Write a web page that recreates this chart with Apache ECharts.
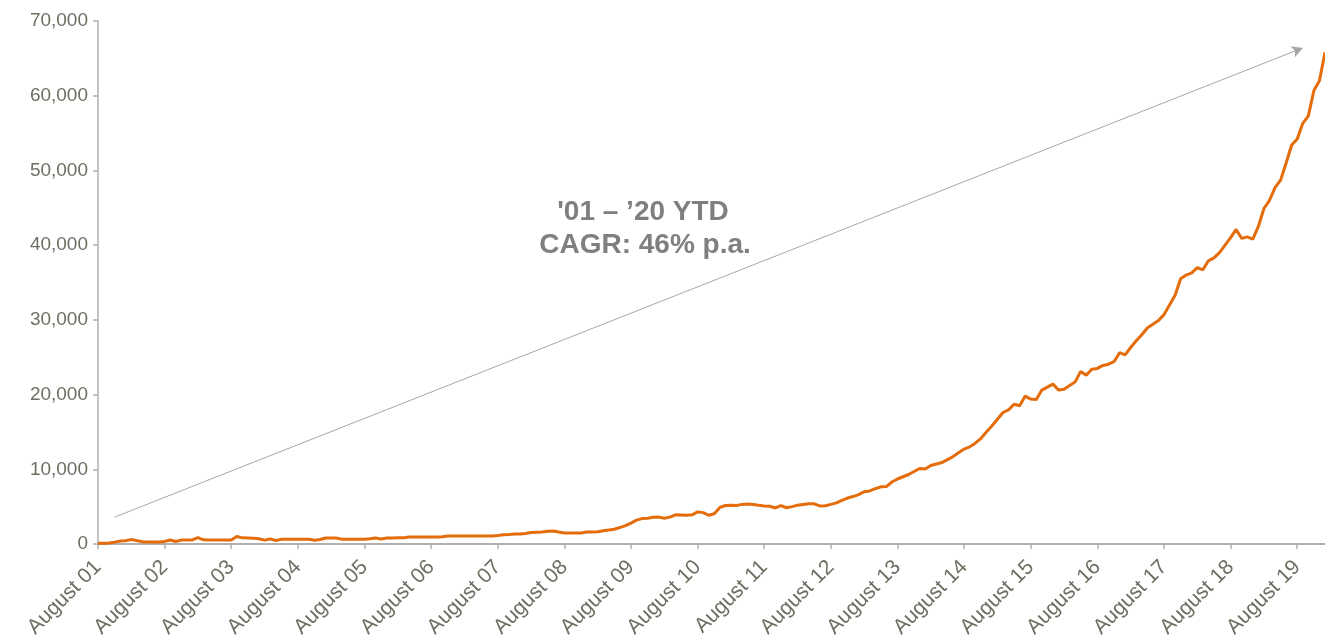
<!DOCTYPE html>
<html>
<head>
<meta charset="utf-8">
<script src="https://cdn.jsdelivr.net/npm/echarts@6/dist/echarts.min.js"></script>
<style>html,body{margin:0;padding:0;background:#fff}#c{width:1325px;height:641px}</style>
</head>
<body>
<div id="c"></div>
<script>
// Monthly series from August 2001 to January 2020
const startYear = 2001;
const startMonth = 7; // August (0-based)
const monthNames = ['January','February','March','April','May','June','July','August','September','October','November','December'];

const values = [
  100,110,130,250,400,450,600,450,300,270,270,280,
  350,530,330,520,530,540,850,560,540,540,540,540,
  540,1000,820,800,780,700,520,680,470,620,630,630,
  630,630,630,500,600,800,810,790,640,630,630,630,
  640,700,800,680,800,810,820,820,940,950,950,950,
  950,950,960,1060,1070,1070,1070,1070,1080,1080,1080,1080,
  1150,1250,1280,1330,1350,1400,1550,1580,1600,1700,1750,1600,
  1470,1470,1470,1480,1600,1620,1650,1780,1860,1980,2200,2450,
  2800,3200,3400,3450,3580,3600,3450,3600,3900,3880,3840,3900,
  4300,4200,3850,4050,4900,5150,5180,5150,5300,5350,5300,5180,
  5100,5050,4820,5150,4850,5000,5200,5300,5400,5380,5100,5130,
  5300,5500,5850,6150,6350,6600,7000,7100,7400,7650,7680,8300,
  8700,9000,9300,9700,10100,10050,10500,10700,10900,11300,11700,12200,
  12700,13000,13500,14100,15000,15800,16700,17600,17950,18700,18500,19800,
  19400,19350,20600,21000,21400,20600,20700,21200,21700,23100,22600,23400,
  23500,23900,24060,24400,25600,25300,26300,27200,28000,28900,29400,29900,
  30700,32000,33300,35500,36000,36300,37000,36700,37900,38300,39000,40000,
  41000,42100,40900,41100,40800,42500,44900,46000,47700,48700,51000,53400,
  54200,56300,57300,60700,62000,65800
];

const categories = [];
for (let i = 0; i < values.length; i++) {
  const m = (startMonth + i) % 12;
  const y = startYear + Math.floor((startMonth + i) / 12);
  categories.push(monthNames[m] + ' ' + String(y % 100).padStart(2, '0'));
}

const yTicks = { min: 0, max: 70000, interval: 10000 };
const annotationLines = ["'01 \u2013 \u201920 YTD", 'CAGR: 46% p.a.'];
const arrowFrom = { index: 3, value: 3600 };
const arrowTo = { index: 217, value: 66400 };

const labelColor = '#6e6e62';
const axisColor = '#b0b0b0';
const fontFamily = "'Liberation Sans', Arial, sans-serif";
const showYearly = (idx) => idx % 12 === 0;

const chart = echarts.init(document.getElementById('c'), null, { renderer: 'canvas' });
chart.setOption({
  animation: false,
  grid: { left: 98, right: 0, top: 21, bottom: 97, containLabel: false },
  xAxis: {
    type: 'category',
    data: categories,
    boundaryGap: false,
    axisLine: { show: true, lineStyle: { color: axisColor, width: 2 } },
    axisTick: { show: true, interval: showYearly, length: 5, lineStyle: { color: axisColor, width: 1.5 } },
    axisLabel: {
      interval: showYearly,
      rotate: 45,
      margin: 20,
      color: labelColor,
      fontSize: 21,
      fontFamily: fontFamily
    },
    splitLine: { show: false }
  },
  yAxis: {
    type: 'value',
    min: yTicks.min,
    max: yTicks.max,
    interval: yTicks.interval,
    axisLine: { show: true, lineStyle: { color: axisColor, width: 1.5 } },
    axisTick: { show: true, length: 5, lineStyle: { color: axisColor, width: 1.5 } },
    axisLabel: {
      margin: 10,
      color: labelColor,
      fontSize: 19,
      fontFamily: fontFamily,
      formatter: (v) => v.toLocaleString('en-US')
    },
    splitLine: { show: false }
  },
  series: [{
    type: 'line',
    data: values,
    symbol: 'none',
    lineStyle: { color: '#e46c0a', width: 3 },
    itemStyle: { color: '#e46c0a' },
    markLine: {
      silent: true,
      symbol: ['none', 'arrow'],
      symbolSize: [9, 11],
      label: { show: false },
      lineStyle: { color: '#a6a6a6', width: 1, type: 'solid' },
      data: [[
        { coord: [categories[arrowFrom.index], arrowFrom.value] },
        { coord: [categories[arrowTo.index], arrowTo.value] }
      ]]
    }
  }],
  graphic: [
    {
      type: 'text', x: 643, y: 212,
      style: { text: annotationLines[0], fill: '#7f7f7f', font: "bold 28px 'Liberation Sans', Arial, sans-serif", textAlign: 'center', textVerticalAlign: 'middle' }
    },
    {
      type: 'text', x: 645, y: 245,
      style: { text: annotationLines[1], fill: '#7f7f7f', font: "bold 28px 'Liberation Sans', Arial, sans-serif", textAlign: 'center', textVerticalAlign: 'middle' }
    }
  ]
});
</script>
</body>
</html>
